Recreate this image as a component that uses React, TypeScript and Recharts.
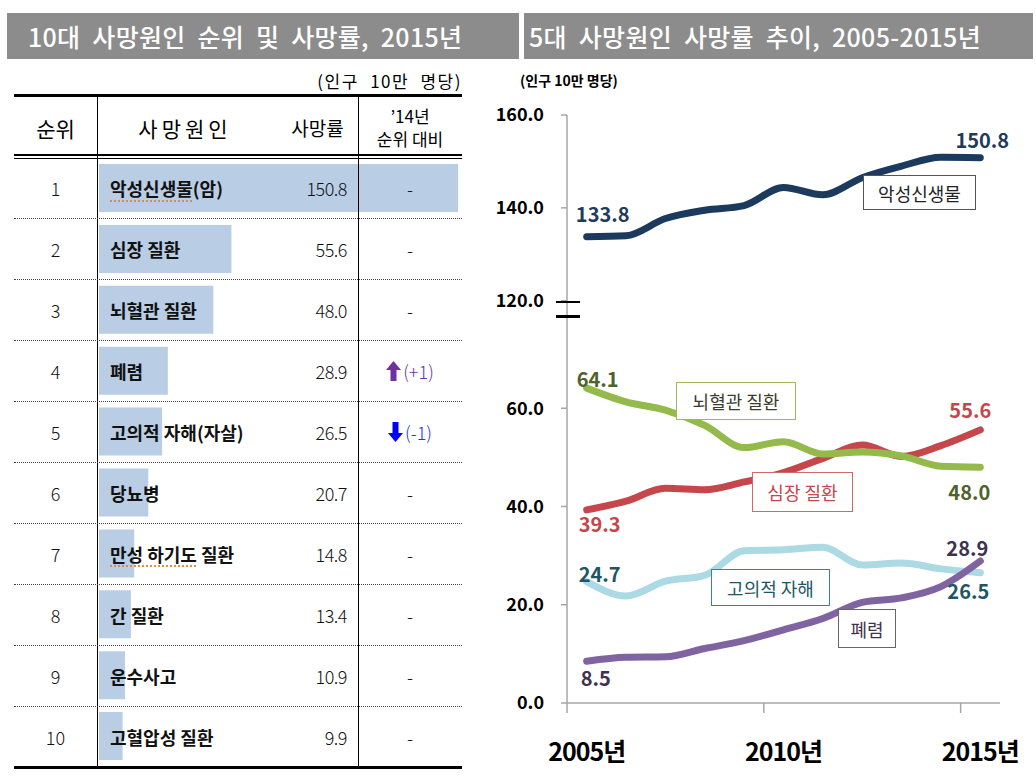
import { BarChart, Bar, XAxis, YAxis, LineChart, Line } from 'recharts'

const FONT = '"Noto Sans CJK KR", "Noto Sans", sans-serif'

// left table: 10 leading causes, 2015
const ranks = [1, 2, 3, 4, 5, 6, 7, 8, 9, 10]
const causes = ['악성신생물(암)', '심장 질환', '뇌혈관 질환', '폐렴', '고의적 자해(자살)', '당뇨병', '만성 하기도 질환', '간 질환', '운수사고', '고혈압성 질환']
const rates = [150.8, 55.6, 48.0, 28.9, 26.5, 20.7, 14.8, 13.4, 10.9, 9.9]
const changes = ['-', '-', '-', '+1', '-1', '-', '-', '-', '-', '-']

// right chart: 5 leading causes trend
const years = [2005, 2006, 2007, 2008, 2009, 2010, 2011, 2012, 2013, 2014, 2015]
const cancer = [133.8, 134.0, 137.7, 139.5, 140.5, 144.4, 142.8, 146.5, 149.0, 150.9, 150.8]
const heart = [39.3, 41.1, 43.7, 43.4, 45.0, 46.9, 49.8, 52.5, 50.2, 52.4, 55.6]
const cerebro = [64.1, 61.3, 59.6, 56.5, 52.0, 53.2, 50.7, 51.1, 50.3, 48.2, 48.0]
const suicide = [24.7, 21.8, 24.8, 26.0, 31.0, 31.2, 31.7, 28.1, 28.5, 27.3, 26.5]
const pneumonia = [8.5, 9.3, 9.4, 11.1, 12.7, 14.9, 17.2, 20.5, 21.4, 23.7, 28.9]
const topTicks = [120, 140, 160]
const bottomTicks = [0, 20, 40, 60]

const tableData = causes.map((name, i) => ({ name, rate: rates[i] }))
const trendData = years.map((year, i) => ({
  year,
  cancer: cancer[i],
  heart: heart[i],
  cerebro: cerebro[i],
  suicide: suicide[i],
  pneumonia: pneumonia[i],
}))

const ROW_TOP = 158
const ROW_H = 60.9
const PLOT_LEFT = 567
const PLOT_W = 433
const CHART_LEFT = 480
const Y_W = PLOT_LEFT - CHART_LEFT

const AXIS_GRAY = '#a6a6a6'

type LabelCfg = { color: string; first: [number, number]; last: [number, number] }

const endLabel = (cfg: LabelCfg) => (p: any) => {
  const { x, y, index, value } = p
  if (index !== 0 && index !== years.length - 1) return <g key={`e-${index}`} />
  const o = index === 0 ? cfg.first : cfg.last
  return (
    <text
      key={`l-${index}`}
      x={x + o[0]}
      y={y + o[1]}
      textAnchor="middle"
      dominantBaseline="central"
      fill={cfg.color}
      fontSize={20}
      fontWeight={700}
      fontFamily={FONT}
    >
      {Number(value).toFixed(1)}
    </text>
  )
}

const YearTick = (props: any) => {
  const { x, y, payload } = props
  const bw = PLOT_W / years.length
  return (
    <g>
      <line x1={x - bw / 2} x2={x - bw / 2} y1={y} y2={y + 10} stroke={AXIS_GRAY} strokeWidth={1.5} />
      <text x={x} y={y + 58} textAnchor="middle" fill="#000" fontSize={25} fontWeight={700} fontFamily={FONT} letterSpacing={-1}>
        {payload.value}년
      </text>
    </g>
  )
}

const yTickStyle = { fill: '#000', fontSize: 18, fontWeight: 700, fontFamily: FONT }

function Arrow({ up, color }: { up: boolean; color: string }) {
  return (
    <svg width={15} height={20} viewBox="0 0 15 20" style={{ marginRight: 2 }}>
      <polygon
        points={up ? '7.5,0 15,9 10.5,9 10.5,20 4.5,20 4.5,9 0,9' : '7.5,20 15,11 10.5,11 10.5,0 4.5,0 4.5,11 0,11'}
        fill={color}
      />
    </svg>
  )
}

function NameCell({ name }: { name: string }) {
  // spell-check squiggle seen under two names
  const wavy = { textDecoration: 'underline dotted #d9843a', textUnderlineOffset: 4 }
  if (name === '악성신생물(암)') return <span><span style={wavy}>악성신생물</span>(암)</span>
  if (name === '만성 하기도 질환') return <span><span style={wavy}>만성 하기도</span> 질환</span>
  return <span>{name}</span>
}

function Box({ left, top, w, h, border, color, text }: any) {
  return (
    <div
      style={{
        position: 'absolute', left, top, width: w, height: h, boxSizing: 'border-box',
        border: `1.5px solid ${border}`, background: '#fff', color, fontSize: 18,
        display: 'flex', alignItems: 'center', justifyContent: 'center', fontFamily: FONT,
      }}
    >
      {text}
    </div>
  )
}

export default function App() {
  const titleStyle = {
    position: 'absolute' as const, top: 13, height: 46, background: '#8c8c8c', color: '#fff',
    fontSize: 25, lineHeight: '46px', fontWeight: 500, wordSpacing: 6, letterSpacing: 0.3, whiteSpace: 'nowrap' as const,
  }
  return (
    <div style={{ position: 'absolute', left: 0, top: 0, width: 1036, height: 781, background: '#fff', fontFamily: FONT, overflow: 'hidden' }}>
      <div style={{ ...titleStyle, left: 7, width: 512, paddingLeft: 21, boxSizing: 'border-box' }}>10대 사망원인 순위 및 사망률, 2015년</div>
      <div style={{ ...titleStyle, left: 524, width: 509, paddingLeft: 5, boxSizing: 'border-box' }}>5대 사망원인 사망률 추이, 2005-2015년</div>

      {/* ---------- left table ---------- */}
      <div style={{ position: 'absolute', left: 280, width: 182, top: 68, textAlign: 'right', fontSize: 17, color: '#000', wordSpacing: 6, letterSpacing: 1.5 }}>(인구 10만 명당)</div>

      <div style={{ position: 'absolute', left: 99, top: ROW_TOP }}>
        <BarChart width={362} height={ROW_H * 10} data={tableData} layout="vertical" margin={{ top: 0, right: 0, bottom: 0, left: 0 }}>
          <XAxis type="number" domain={[0, 152]} hide />
          <YAxis type="category" dataKey="name" hide />
          <Bar dataKey="rate" fill="#b9cde5" barSize={48} isAnimationActive={false} />
        </BarChart>
      </div>

      {/* table rules */}
      <div style={{ position: 'absolute', left: 14, top: 94, width: 448, height: 2.5, background: '#000' }} />
      <div style={{ position: 'absolute', left: 14, top: 154, width: 448, height: 1.5, background: '#000' }} />
      <div style={{ position: 'absolute', left: 14, top: 157.5, width: 448, height: 1.5, background: '#000' }} />
      <div style={{ position: 'absolute', left: 14, top: 766, width: 448, height: 2.5, background: '#000' }} />
      <div style={{ position: 'absolute', left: 96.5, top: 95, width: 1.5, height: 672, background: '#000' }} />
      <div style={{ position: 'absolute', left: 357.5, top: 95, width: 1.5, height: 672, background: '#000' }} />
      {ranks.slice(0, -1).map((r, i) => (
        <div key={`sep-${r}`} style={{ position: 'absolute', left: 14, top: ROW_TOP + (i + 1) * ROW_H - 0.5, width: 448, borderTop: '1px dotted #444' }} />
      ))}

      {/* header */}
      <div style={{ position: 'absolute', left: 14, width: 83, top: 113, textAlign: 'center', fontSize: 21, color: '#000' }}>순위</div>
      <div style={{ position: 'absolute', left: 120, width: 130, top: 113, textAlign: 'center', fontSize: 21, letterSpacing: 4, color: '#000' }}>사망원인</div>
      <div style={{ position: 'absolute', left: 270, width: 95, top: 114, textAlign: 'center', fontSize: 19, color: '#000' }}>사망률</div>
      <div style={{ position: 'absolute', left: 358, width: 104, top: 104, textAlign: 'center', fontSize: 17, lineHeight: '23px', color: '#000' }}>
        ’14년<br />순위 대비
      </div>

      {/* rows */}
      {ranks.map((r, i) => {
        const top = ROW_TOP + i * ROW_H
        const ch = changes[i]
        const cell = { position: 'absolute' as const, top, height: ROW_H, display: 'flex', alignItems: 'center', fontSize: 18, color: '#111' }
        return (
          <div key={`row-${r}`}>
            <div style={{ ...cell, left: 14, width: 83, justifyContent: 'center', fontWeight: 300 }}>{r}</div>
            <div style={{ ...cell, left: 110, fontWeight: 700, whiteSpace: 'nowrap' }}><NameCell name={causes[i]} /></div>
            <div style={{ ...cell, left: 250, width: 97, justifyContent: 'flex-end', fontWeight: 300, letterSpacing: -0.5 }}>{rates[i].toFixed(1)}</div>
            <div style={{ ...cell, left: 358, width: 104, justifyContent: 'center', fontWeight: 300 }}>
              {ch === '-' ? '-' : ch.startsWith('+') ? (
                <><Arrow up color="#7030a0" /><span style={{ color: '#7030a0' }}>({ch})</span></>
              ) : (
                <><Arrow up={false} color="#0000ff" /><span style={{ color: '#2233dd' }}>({ch})</span></>
              )}
            </div>
          </div>
        )
      })}

      {/* ---------- right chart ---------- */}
      <div style={{ position: 'absolute', left: 520, top: 70, fontSize: 14, fontWeight: 700, color: '#000' }}>(인구 10만 명당)</div>

      {/* upper panel: 120-160 */}
      <div style={{ position: 'absolute', left: CHART_LEFT, top: 95 }}>
        <LineChart width={556} height={235} data={trendData} margin={{ top: 20, right: 36, bottom: 20, left: 0 }}>
          <XAxis dataKey="year" scale="band" hide />
          <YAxis
            width={Y_W}
            domain={[118, 160]}
            ticks={topTicks}
            interval={0}
            allowDataOverflow
            tickFormatter={(v: number) => v.toFixed(1)}
            axisLine={{ stroke: AXIS_GRAY, strokeWidth: 1.5 }}
            tickLine={{ stroke: AXIS_GRAY, strokeWidth: 1.5 }}
            tickSize={6}
            tickMargin={17}
            tick={yTickStyle}
          />
          <Line
            type="monotone"
            dataKey="cancer"
            stroke="#1c3a5e"
            strokeWidth={7}
            strokeLinecap="round"
            dot={false}
            isAnimationActive={false}
            label={endLabel({ color: '#1f3b5c', first: [16, -23], last: [2, -18] })}
          />
        </LineChart>
      </div>

      {/* lower panel: 0-80 */}
      <div style={{ position: 'absolute', left: CHART_LEFT, top: 310 }}>
        <LineChart width={556} height={468} data={trendData} margin={{ top: 0, right: 36, bottom: 0, left: 0 }}>
          <XAxis
            dataKey="year"
            scale="band"
            interval={4}
            height={75}
            tickSize={0}
            tickMargin={0}
            tickLine={false}
            axisLine={{ stroke: AXIS_GRAY, strokeWidth: 1.5 }}
            tick={<YearTick />}
          />
          <YAxis
            width={Y_W}
            domain={[0, 80]}
            ticks={bottomTicks}
            interval={0}
            tickFormatter={(v: number) => v.toFixed(1)}
            axisLine={{ stroke: AXIS_GRAY, strokeWidth: 1.5 }}
            tickLine={{ stroke: AXIS_GRAY, strokeWidth: 1.5 }}
            tickSize={6}
            tickMargin={17}
            tick={yTickStyle}
          />
          <Line type="monotone" dataKey="suicide" stroke="#abd9e4" strokeWidth={7} strokeLinecap="round" dot={false} isAnimationActive={false}
            label={endLabel({ color: '#1d5664', first: [13, -8], last: [-12, 18] })} />
          <Line type="monotone" dataKey="pneumonia" stroke="#8064a2" strokeWidth={7} strokeLinecap="round" dot={false} isAnimationActive={false}
            label={endLabel({ color: '#3f3151', first: [9, 16], last: [-13, -14] })} />
          <Line type="monotone" dataKey="heart" stroke="#c5474b" strokeWidth={7} strokeLinecap="round" dot={false} isAnimationActive={false}
            label={endLabel({ color: '#c5474b', first: [13, 14], last: [-10, -20] })} />
          <Line type="monotone" dataKey="cerebro" stroke="#93ba4a" strokeWidth={7} strokeLinecap="round" dot={false} isAnimationActive={false}
            label={endLabel({ color: '#4f6228', first: [11, -10], last: [-11, 24] })} />
        </LineChart>
      </div>

      {/* axis break */}
      <div style={{ position: 'absolute', left: 556, top: 300.5, width: 24, height: 2.5, background: '#000' }} />
      <div style={{ position: 'absolute', left: 556, top: 315, width: 24, height: 2.5, background: '#000' }} />

      {/* series name boxes */}
      <Box left={863} top={175} w={113} h={35} border="#555" color="#222" text="악성신생물" />
      <Box left={676} top={382} w={120} h={38} border="#9bbb59" color="#3b3b2b" text="뇌혈관 질환" />
      <Box left={752} top={472} w={101} h={40} border="#d06a6a" color="#c5474b" text="심장 질환" />
      <Box left={711} top={569} w={119} h={37} border="#31859c" color="#1d5664" text="고의적 자해" />
      <Box left={838} top={609} w={58} h={39} border="#666" color="#3f3151" text="폐렴" />
    </div>
  )
}
